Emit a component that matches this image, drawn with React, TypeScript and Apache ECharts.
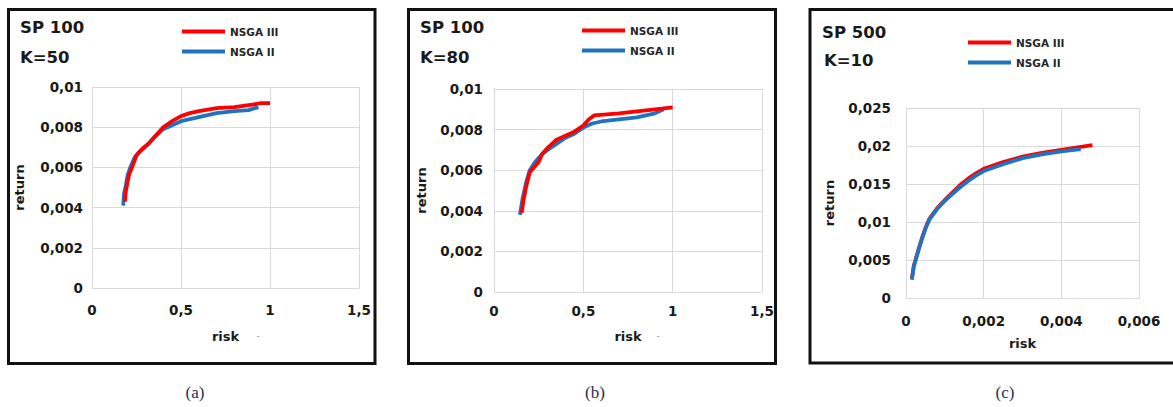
import React, { useEffect, useRef } from "react";
import * as echarts from "echarts";

// Panel (a): SP 100, K=50
const a_nsga3: [number, number][] = [
  [0.185, 0.0043], [0.19, 0.0048], [0.2, 0.0053], [0.21, 0.0057], [0.225, 0.006],
  [0.25, 0.0066], [0.28, 0.0069], [0.32, 0.0072], [0.36, 0.0076], [0.4, 0.008],
  [0.45, 0.0083], [0.5, 0.00855], [0.55, 0.0087], [0.6, 0.0088], [0.7, 0.00895],
  [0.8, 0.009], [0.9, 0.00912], [0.95, 0.0092], [1.0, 0.0092],
];
const a_nsga2: [number, number][] = [
  [0.175, 0.0041], [0.18, 0.0047], [0.19, 0.0051], [0.2, 0.0056], [0.215, 0.006],
  [0.24, 0.0065], [0.27, 0.0068], [0.31, 0.0071], [0.35, 0.0075], [0.4, 0.0079],
  [0.45, 0.0081], [0.5, 0.0083], [0.55, 0.0084], [0.6, 0.0085], [0.7, 0.0087],
  [0.8, 0.0088], [0.88, 0.00885], [0.935, 0.009],
];
// Panel (b): SP 100, K=80
const b_nsga3: [number, number][] = [
  [0.155, 0.0039], [0.165, 0.0045], [0.18, 0.0052], [0.2, 0.0059], [0.22, 0.0061],
  [0.25, 0.0064], [0.27, 0.0068], [0.3, 0.0071], [0.35, 0.0075], [0.4, 0.0077],
  [0.45, 0.0079], [0.5, 0.0082], [0.53, 0.0085], [0.56, 0.0087], [0.7, 0.0088],
  [0.8, 0.0089], [0.9, 0.009], [1.0, 0.0091],
];
const b_nsga2: [number, number][] = [
  [0.145, 0.0038], [0.16, 0.0046], [0.18, 0.0054], [0.2, 0.006], [0.23, 0.0064],
  [0.27, 0.0068], [0.3, 0.007], [0.35, 0.0073], [0.4, 0.0076], [0.45, 0.0078],
  [0.5, 0.0081], [0.55, 0.0083], [0.6, 0.0084], [0.7, 0.0085], [0.8, 0.0086],
  [0.9, 0.0088], [0.95, 0.009],
];
// Panel (c): SP 500, K=10
const c_nsga3: [number, number][] = [
  [0.00015, 0.0025], [0.0002, 0.0042], [0.0003, 0.006], [0.0004, 0.0077], [0.0005, 0.0092],
  [0.0006, 0.0104], [0.0008, 0.0118], [0.001, 0.0129], [0.0012, 0.0139], [0.0014, 0.0149],
  [0.0016, 0.0157], [0.0018, 0.0164], [0.002, 0.017], [0.0025, 0.0179], [0.003, 0.0186],
  [0.0035, 0.0191], [0.004, 0.0195], [0.0045, 0.0199], [0.0048, 0.0201],
];
const c_nsga2: [number, number][] = [
  [0.00015, 0.0024], [0.0002, 0.0041], [0.0003, 0.0059], [0.0004, 0.0076], [0.0005, 0.0091],
  [0.0006, 0.0103], [0.0008, 0.0117], [0.001, 0.0128], [0.0012, 0.0137], [0.0014, 0.0146],
  [0.0016, 0.0154], [0.0018, 0.0161], [0.002, 0.0167], [0.0025, 0.0176], [0.003, 0.0184],
  [0.0035, 0.0189], [0.004, 0.0193], [0.0045, 0.0196],
];

const panelTitles = ["SP 100", "SP 100", "SP 500"];
const panelK = ["K=50", "K=80", "K=10"];
const captions = ["(a)", "(b)", "(c)"];
const seriesNames = ["NSGA III", "NSGA II"];
const xRanges = [
  { min: 0, max: 1.5, interval: 0.5 },
  { min: 0, max: 1.5, interval: 0.5 },
  { min: 0, max: 0.006, interval: 0.002 },
];
const yRanges = [
  { min: 0, max: 0.01, interval: 0.002 },
  { min: 0, max: 0.01, interval: 0.002 },
  { min: 0, max: 0.025, interval: 0.005 },
];

const RED = "#ff0000";
const BLUE = "#1f74c2";
const GRIDC = "#d9d9d9";
const FONT = "DejaVu Sans";

const fmt = (v: number) => String(parseFloat(v.toFixed(6))).replace(".", ",");

export default function App() {
  const ref = useRef<HTMLDivElement>(null);
  useEffect(() => {
    if (!ref.current) return;
    const chart = echarts.init(ref.current, null, { renderer: "svg" });

    const grids = [
      { left: 92, top: 87, width: 267, height: 201 },
      { left: 494, top: 89, width: 268, height: 203 },
      { left: 906, top: 108, width: 233, height: 190 },
    ];
    const yLabelMargin = [9, 11, 15];
    const xLabelMargin = [15, 12, 16];
    const xNameGap = [42, 38, 39];
    const yNameGap = [66, 66, 70];

    const labelStyle = { fontFamily: FONT, fontWeight: "bold" as const, fontSize: 13.5, color: "#1a1a1a" };

    const xAxis = grids.map((_, i) => ({
      type: "value" as const,
      gridIndex: i,
      ...xRanges[i],
      name: "risk",
      nameLocation: "middle" as const,
      nameGap: xNameGap[i],
      nameTextStyle: { ...labelStyle, fontSize: 13 },
      axisLine: { show: true, lineStyle: { color: GRIDC } },
      axisTick: { show: false },
      splitLine: { show: true, lineStyle: { color: GRIDC, width: 1 } },
      axisLabel: { ...labelStyle, margin: xLabelMargin[i], formatter: fmt, showMaxLabel: true },
    }));
    const yAxis = grids.map((_, i) => ({
      type: "value" as const,
      gridIndex: i,
      ...yRanges[i],
      name: "return",
      nameLocation: "middle" as const,
      nameGap: yNameGap[i],
      nameTextStyle: { ...labelStyle, fontSize: 13 },
      axisLine: { show: true, lineStyle: { color: GRIDC } },
      axisTick: { show: false },
      splitLine: { show: true, lineStyle: { color: GRIDC, width: 1 } },
      axisLabel: { ...labelStyle, margin: yLabelMargin[i], formatter: fmt },
    }));

    const data3 = [a_nsga3, b_nsga3, c_nsga3];
    const data2 = [a_nsga2, b_nsga2, c_nsga2];
    const series: any[] = [];
    for (let i = 0; i < 3; i++) {
      const s3 = {
        type: "line", name: seriesNames[0], xAxisIndex: i, yAxisIndex: i,
        data: data3[i], showSymbol: false, color: RED,
        lineStyle: { color: RED, width: 3.8 }, z: i === 2 ? 2 : 3,
      };
      const s2 = {
        type: "line", name: seriesNames[1], xAxisIndex: i, yAxisIndex: i,
        data: data2[i], showSymbol: false, color: BLUE,
        lineStyle: { color: BLUE, width: 3.8 }, z: i === 2 ? 3 : 2,
      };
      series.push(s3, s2);
    }

    const legendPos = [
      { left: 177, top: 21 },
      { left: 577, top: 20 },
      { left: 963, top: 32 },
    ];
    const legend = legendPos.map((p) => ({
      ...p,
      orient: "vertical" as const,
      data: seriesNames,
      icon: "rect",
      itemWidth: 43,
      itemHeight: 4,
      itemGap: 9,
      selectedMode: false,
      textStyle: { fontFamily: FONT, fontWeight: "bold" as const, fontSize: 10.5, color: "#262626" },
    }));

    const titlePos = [
      [{ left: 20, top: 19 }, { left: 20, top: 49 }],
      [{ left: 420, top: 19 }, { left: 420, top: 49 }],
      [{ left: 822, top: 24 }, { left: 824, top: 52 }],
    ];
    const title: any[] = [];
    for (let i = 0; i < 3; i++) {
      title.push({
        text: panelTitles[i], ...titlePos[i][0], padding: 0,
        textStyle: { fontFamily: FONT, fontWeight: "bold", fontSize: 16.5, color: "#1a1a1a" },
      });
      title.push({
        text: panelK[i], ...titlePos[i][1], padding: 0,
        textStyle: { fontFamily: FONT, fontWeight: "bold", fontSize: 16.5, color: "#1a1a1a" },
      });
    }

    const borders = [
      { x: 8.5, y: 9.5, width: 366.5, height: 354 },
      { x: 408.5, y: 9.5, width: 367, height: 354 },
      { x: 810, y: 9.5, width: 380, height: 353.5 },
    ];
    const captionX = [195, 595, 1005];
    const graphic: any[] = [];
    borders.forEach((b) =>
      graphic.push({
        type: "rect", shape: b, z: 10,
        style: { fill: "none", stroke: "#111", lineWidth: 3 },
      })
    );
    captionX.forEach((x, i) =>
      graphic.push({
        type: "text", x, y: 392, z: 10,
        style: {
          text: captions[i], x: 0, y: 0, textAlign: "center", textVerticalAlign: "middle",
          fontFamily: "Liberation Serif", fontSize: 17, fill: "#253050",
        },
      })
    );
    [258, 658].forEach((x) =>
      graphic.push({
        type: "text", x, y: 335, z: 10,
        style: { text: "-", textAlign: "center", textVerticalAlign: "middle", fontSize: 8, fill: "#666" },
      })
    );

    chart.setOption({
      animation: false,
      backgroundColor: "#ffffff",
      title,
      legend,
      grid: grids,
      xAxis,
      yAxis,
      series,
      graphic,
    });
    return () => chart.dispose();
  }, []);
  return (
    <div
      ref={ref}
      style={{ position: "absolute", left: 0, top: 0, width: 1173, height: 407 }}
    />
  );
}
